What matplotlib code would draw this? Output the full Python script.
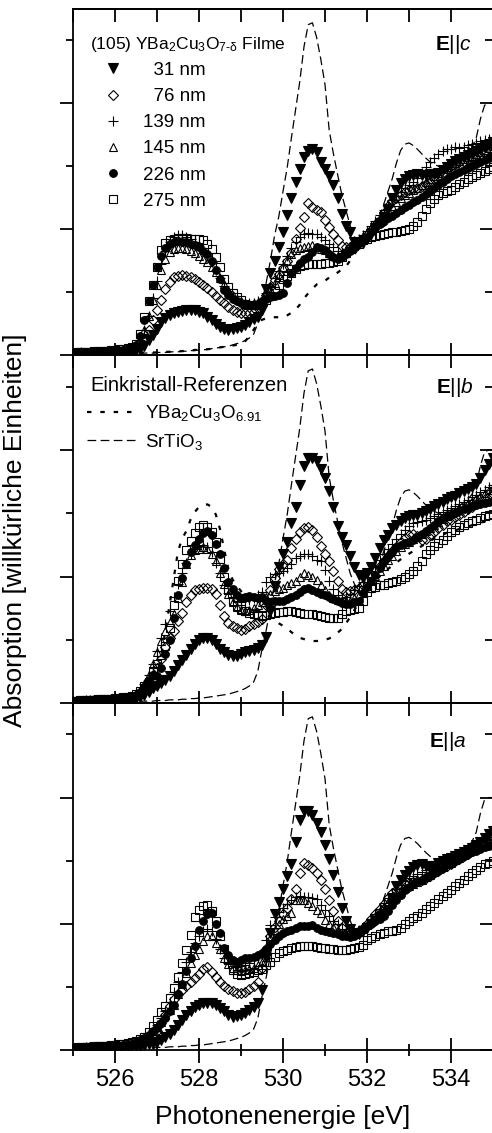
import numpy as np
import matplotlib.pyplot as plt
from matplotlib.lines import Line2D
from matplotlib.ticker import MultipleLocator

plt.rcParams['font.family'] = ['Liberation Sans', 'DejaVu Sans']
plt.rcParams['mathtext.fontset'] = 'custom'
plt.rcParams['mathtext.rm'] = 'Liberation Sans'
plt.rcParams['mathtext.it'] = 'Liberation Sans:italic'
plt.rcParams['mathtext.bf'] = 'Liberation Sans:bold'
plt.rcParams['mathtext.default'] = 'regular'

# Photonenenergie, 0.1 eV Schritte
E = np.linspace(525.0, 535.0, 101)

# ---------------- E || c ----------------
c31 = [0.02,0.02,0.03,0.02,0.03,0.03,0.02,0.03,0.04,0.03,
       0.04,0.04,0.05,0.05,0.06,0.08,0.10,0.15,0.23,0.32,
       0.41,0.52,0.58,0.63,0.66,0.69,0.70,0.71,0.71,0.71,
       0.69,0.66,0.61,0.55,0.49,0.44,0.41,0.40,0.41,0.43,
       0.45,0.48,0.52,0.57,0.61,0.72,1.05,1.30,1.50,1.72,
       1.95,2.22,2.50,2.75,2.96,3.14,3.25,3.28,3.22,3.06,
       2.95,2.84,2.70,2.50,2.24,2.05,1.95,1.80,1.76,1.78,
       1.85,1.93,2.02,2.10,2.20,2.32,2.50,2.63,2.74,2.80,
       2.84,2.86,2.87,2.86,2.86,2.87,2.88,2.90,2.94,2.99,
       3.04,3.08,3.12,3.15,3.18,3.21,3.24,3.27,3.31,3.34,
       3.38]
c76 = [0.02,0.03,0.02,0.03,0.03,0.04,0.03,0.04,0.04,0.05,
       0.05,0.06,0.06,0.07,0.08,0.11,0.16,0.26,0.40,0.56,
       0.72,0.87,1.05,1.16,1.24,1.26,1.27,1.26,1.24,1.20,
       1.16,1.11,1.06,1.00,0.94,0.88,0.82,0.76,0.72,0.69,
       0.67,0.66,0.67,0.69,0.74,0.80,0.95,1.08,1.19,1.28,
       1.38,1.50,1.62,1.85,2.02,2.20,2.41,2.35,2.31,2.28,
       2.14,2.04,1.93,1.83,1.74,1.71,1.72,1.74,1.78,1.84,
       1.90,1.98,2.06,2.15,2.26,2.36,2.44,2.50,2.55,2.59,
       2.62,2.64,2.66,2.68,2.71,2.75,2.79,2.84,2.90,2.95,
       3.00,3.03,3.06,3.09,3.12,3.15,3.18,3.22,3.25,3.28,
       3.32]
c139 = [0.03,0.03,0.04,0.03,0.04,0.04,0.05,0.04,0.05,0.06,
        0.06,0.07,0.08,0.09,0.11,0.15,0.24,0.40,0.62,0.90,
        1.18,1.45,1.66,1.80,1.87,1.90,1.90,1.88,1.84,1.80,
        1.74,1.67,1.58,1.47,1.35,1.22,1.10,0.99,0.92,0.87,
        0.84,0.82,0.82,0.83,0.85,0.88,0.98,1.10,1.22,1.34,
        1.45,1.58,1.70,1.80,1.88,1.93,1.94,1.93,1.92,1.87,
        1.83,1.77,1.72,1.66,1.62,1.66,1.72,1.78,1.84,1.90,
        1.97,2.05,2.13,2.22,2.30,2.38,2.46,2.53,2.59,2.65,
        2.70,2.75,2.82,2.90,2.98,3.06,3.13,3.19,3.24,3.27,
        3.28,3.30,3.29,3.31,3.33,3.35,3.37,3.40,3.42,3.44,
        3.47]
c145 = [0.02,0.03,0.03,0.03,0.04,0.04,0.04,0.05,0.05,0.05,
        0.06,0.07,0.07,0.09,0.11,0.15,0.24,0.40,0.62,0.88,
        1.12,1.35,1.52,1.63,1.68,1.70,1.70,1.68,1.65,1.62,
        1.58,1.53,1.47,1.40,1.32,1.23,1.13,1.03,0.95,0.89,
        0.85,0.82,0.81,0.82,0.84,0.88,0.96,1.05,1.15,1.27,
        1.40,1.50,1.60,1.67,1.70,1.72,1.74,1.75,1.72,1.69,
        1.67,1.62,1.58,1.57,1.60,1.65,1.71,1.77,1.83,1.89,
        1.95,2.02,2.09,2.16,2.23,2.30,2.37,2.43,2.49,2.54,
        2.58,2.62,2.66,2.70,2.75,2.80,2.85,2.90,2.95,2.99,
        3.02,3.05,3.08,3.11,3.14,3.17,3.20,3.23,3.26,3.29,
        3.32]
c226 = [0.03,0.03,0.03,0.04,0.04,0.04,0.05,0.05,0.05,0.06,
        0.06,0.07,0.08,0.09,0.11,0.16,0.30,0.56,0.85,1.12,
        1.40,1.58,1.70,1.77,1.80,1.81,1.80,1.79,1.77,1.75,
        1.71,1.66,1.61,1.50,1.35,1.20,1.03,0.95,0.89,0.85,
        0.82,0.79,0.79,0.79,0.81,0.85,0.89,0.92,0.93,0.96,
        0.98,1.14,1.30,1.38,1.46,1.52,1.56,1.64,1.72,1.70,
        1.67,1.61,1.56,1.53,1.56,1.61,1.66,1.72,1.78,1.84,
        1.88,1.95,2.02,2.08,2.13,2.17,2.21,2.25,2.30,2.35,
        2.39,2.43,2.46,2.51,2.56,2.61,2.66,2.70,2.75,2.80,
        2.84,2.88,2.91,2.94,2.97,3.00,3.04,3.07,3.10,3.13,
        3.16]
c275 = [0.03,0.04,0.04,0.05,0.05,0.06,0.06,0.07,0.07,0.08,
        0.08,0.09,0.10,0.11,0.13,0.18,0.34,0.60,0.85,1.12,
        1.40,1.67,1.78,1.83,1.85,1.86,1.86,1.86,1.85,1.85,
        1.85,1.82,1.77,1.68,1.55,1.40,1.20,1.08,0.98,0.92,
        0.87,0.81,0.80,0.79,0.80,0.82,0.88,0.93,1.02,1.12,
        1.20,1.26,1.31,1.36,1.41,1.43,1.44,1.45,1.45,1.45,
        1.46,1.46,1.47,1.50,1.56,1.62,1.68,1.73,1.77,1.82,
        1.85,1.87,1.89,1.91,1.93,1.94,1.95,1.96,1.97,1.98,
        2.00,2.05,2.12,2.21,2.32,2.42,2.48,2.54,2.58,2.61,
        2.63,2.67,2.71,2.75,2.79,2.83,2.86,2.89,2.92,2.95,
        2.98]
ybco_c = [0.02,0.02,0.02,0.02,0.02,0.02,0.02,0.02,0.02,0.02,
          0.02,0.02,0.03,0.03,0.03,0.03,0.03,0.04,0.04,0.04,
          0.04,0.05,0.05,0.05,0.06,0.06,0.06,0.07,0.07,0.08,
          0.08,0.09,0.09,0.10,0.11,0.12,0.13,0.14,0.15,0.16,
          0.17,0.22,0.30,0.40,0.50,0.56,0.58,0.59,0.60,0.60,
          0.60,0.63,0.67,0.72,0.80,0.90,0.98,1.05,1.12,1.15,
          1.18,1.23,1.27,1.31,1.36,1.41,1.50,1.60,1.70,1.78,
          1.85,1.90,1.95,2.00,2.05,2.10,2.15,2.20,2.25,2.30,
          2.35,2.40,2.45,2.50,2.55,2.60,2.64,2.68,2.72,2.76,
          2.80,2.84,2.88,2.92,2.96,3.00,3.04,3.08,3.12,3.16,
          3.20]

# ---------------- E || b ----------------
b31 = [0.02,0.02,0.03,0.02,0.03,0.03,0.03,0.04,0.03,0.04,
       0.04,0.05,0.05,0.06,0.07,0.08,0.10,0.13,0.17,0.23,
       0.27,0.32,0.37,0.43,0.50,0.60,0.68,0.76,0.86,0.93,
       1.00,1.02,1.03,1.00,0.93,0.86,0.81,0.76,0.74,0.75,
       0.77,0.80,0.82,0.84,0.87,0.92,1.05,1.45,1.85,2.15,
       2.35,2.55,2.85,3.10,3.45,3.75,3.87,3.88,3.82,3.70,
       3.55,3.35,3.10,2.80,2.62,2.50,2.32,2.15,2.03,1.98,
       2.05,2.15,2.30,2.45,2.57,2.66,2.77,2.82,2.88,2.92,
       2.96,2.98,2.98,3.01,3.04,3.07,3.11,3.14,3.18,3.22,
       3.25,3.28,3.32,3.35,3.38,3.41,3.46,3.55,3.68,3.78,
       3.88]
b76 = [0.02,0.03,0.02,0.03,0.03,0.04,0.04,0.04,0.05,0.05,
       0.05,0.06,0.07,0.08,0.09,0.11,0.16,0.24,0.34,0.44,
       0.55,0.70,0.88,1.02,1.14,1.30,1.43,1.60,1.70,1.78,
       1.81,1.82,1.82,1.80,1.72,1.55,1.37,1.27,1.21,1.18,
       1.16,1.17,1.21,1.25,1.28,1.33,1.55,1.78,1.98,2.12,
       2.20,2.26,2.45,2.60,2.70,2.77,2.78,2.74,2.62,2.48,
       2.36,2.24,2.08,1.93,1.80,1.76,1.77,1.79,1.82,1.87,
       1.93,2.00,2.08,2.16,2.24,2.32,2.40,2.46,2.54,2.61,
       2.65,2.67,2.64,2.58,2.60,2.65,2.70,2.76,2.82,2.87,
       2.90,2.94,2.98,3.02,3.06,3.10,3.14,3.18,3.22,3.26,
       3.30]
b139 = [0.02,0.03,0.03,0.04,0.04,0.04,0.05,0.05,0.05,0.06,
        0.06,0.07,0.08,0.09,0.10,0.13,0.19,0.30,0.45,0.62,
        0.82,1.02,1.25,1.45,1.68,1.88,2.05,2.22,2.35,2.44,
        2.48,2.50,2.46,2.38,2.22,2.05,1.87,1.74,1.66,1.62,
        1.60,1.61,1.63,1.66,1.70,1.76,1.92,2.00,2.04,2.06,
        2.08,2.14,2.19,2.30,2.33,2.35,2.36,2.33,2.26,2.24,
        2.11,1.93,1.80,1.71,1.66,1.68,1.72,1.78,1.85,1.92,
        2.00,2.08,2.17,2.26,2.35,2.44,2.52,2.60,2.67,2.74,
        2.80,2.84,2.86,2.88,2.90,2.93,2.96,2.99,3.02,3.05,
        3.08,3.11,3.14,3.17,3.21,3.25,3.29,3.33,3.37,3.41,
        3.45]
b145 = [0.02,0.02,0.03,0.03,0.03,0.04,0.04,0.05,0.05,0.05,
        0.06,0.06,0.07,0.08,0.10,0.13,0.19,0.30,0.45,0.62,
        0.80,0.98,1.14,1.28,1.40,1.66,1.92,2.20,2.34,2.42,
        2.44,2.46,2.43,2.36,2.24,2.05,1.88,1.72,1.60,1.52,
        1.47,1.45,1.47,1.50,1.55,1.60,1.68,1.72,1.77,1.80,
        1.82,1.86,1.90,1.93,1.99,2.06,2.03,2.00,1.94,1.87,
        1.78,1.71,1.66,1.63,1.62,1.61,1.62,1.66,1.71,1.77,
        1.85,1.93,2.01,2.09,2.17,2.26,2.33,2.40,2.46,2.51,
        2.55,2.59,2.63,2.67,2.72,2.77,2.82,2.86,2.91,2.96,
        3.00,3.04,3.08,3.12,3.16,3.20,3.24,3.28,3.32,3.36,
        3.40]
b226 = [0.02,0.03,0.03,0.03,0.04,0.04,0.04,0.05,0.05,0.06,
        0.06,0.07,0.08,0.09,0.10,0.13,0.18,0.26,0.36,0.45,
        0.42,0.55,0.78,1.00,1.35,1.70,1.98,2.20,2.38,2.50,
        2.60,2.69,2.72,2.66,2.52,2.36,2.14,1.92,1.80,1.70,
        1.66,1.68,1.69,1.67,1.66,1.68,1.61,1.60,1.61,1.61,
        1.61,1.65,1.68,1.71,1.76,1.80,1.82,1.79,1.76,1.73,
        1.71,1.67,1.64,1.61,1.58,1.56,1.57,1.59,1.61,1.74,
        1.83,1.93,2.03,2.13,2.24,2.32,2.39,2.46,2.50,2.53,
        2.55,2.57,2.62,2.67,2.72,2.77,2.82,2.88,2.92,2.95,
        2.98,3.01,3.04,3.07,3.09,3.11,3.13,3.14,3.16,3.18,
        3.20]
b275 = [0.03,0.03,0.04,0.04,0.05,0.05,0.06,0.06,0.07,0.07,
        0.08,0.08,0.09,0.10,0.11,0.14,0.19,0.27,0.34,0.50,
        0.62,0.76,0.90,1.18,1.55,1.93,2.20,2.42,2.56,2.69,
        2.79,2.81,2.78,2.70,2.55,2.27,2.00,1.79,1.62,1.53,
        1.49,1.45,1.42,1.40,1.39,1.37,1.39,1.41,1.42,1.44,
        1.44,1.45,1.45,1.44,1.42,1.41,1.40,1.40,1.39,1.37,
        1.36,1.35,1.34,1.35,1.40,1.45,1.47,1.48,1.50,1.62,
        1.75,1.82,1.84,1.86,1.87,1.89,1.91,1.93,1.96,2.00,
        2.04,2.08,2.16,2.25,2.35,2.42,2.48,2.53,2.58,2.64,
        2.70,2.74,2.78,2.81,2.84,2.87,2.90,2.93,2.95,2.97,
        2.99]
ybco_b = [0.02,0.02,0.02,0.02,0.02,0.02,0.02,0.02,0.02,0.02,
          0.02,0.03,0.03,0.03,0.04,0.05,0.07,0.10,0.16,0.28,
          0.45,0.75,1.15,1.55,1.98,2.40,2.60,2.72,2.90,3.02,
          3.10,3.13,3.14,3.10,2.98,2.75,2.42,2.12,1.95,1.85,
          1.77,1.68,1.60,1.53,1.48,1.44,1.40,1.36,1.31,1.26,
          1.22,1.18,1.12,1.07,1.03,1.01,0.99,0.98,0.98,0.99,
          1.00,1.02,1.06,1.11,1.17,1.26,1.36,1.47,1.58,1.68,
          1.78,1.86,1.93,2.00,2.06,2.12,2.17,2.22,2.27,2.32,
          2.36,2.40,2.44,2.48,2.52,2.56,2.60,2.63,2.66,2.69,
          2.71,2.73,2.75,2.77,2.79,2.81,2.83,2.85,2.87,2.89,
          2.91]

# ---------------- E || a ----------------
a31 = [0.02,0.02,0.02,0.03,0.03,0.03,0.03,0.04,0.04,0.04,
       0.04,0.05,0.05,0.05,0.06,0.06,0.07,0.08,0.09,0.10,
       0.12,0.16,0.21,0.26,0.32,0.39,0.47,0.55,0.62,0.68,
       0.72,0.74,0.75,0.74,0.71,0.67,0.61,0.56,0.53,0.54,
       0.56,0.59,0.63,0.68,0.75,0.95,1.45,1.85,2.15,2.35,
       2.55,2.75,2.95,3.30,3.65,3.78,3.79,3.73,3.60,3.45,
       3.25,3.02,2.78,2.50,2.25,2.05,1.92,1.85,1.84,1.88,
       1.93,1.99,2.05,2.10,2.16,2.22,2.40,2.60,2.70,2.78,
       2.84,2.90,2.93,2.94,2.92,2.88,2.92,2.97,3.00,3.03,
       3.05,3.08,3.11,3.14,3.17,3.20,3.25,3.30,3.36,3.42,
       3.47]
a76 = [0.02,0.03,0.03,0.03,0.04,0.04,0.04,0.05,0.05,0.05,
       0.06,0.06,0.07,0.08,0.09,0.10,0.12,0.15,0.20,0.25,
       0.30,0.42,0.55,0.69,0.80,0.88,0.95,1.02,1.08,1.14,
       1.20,1.28,1.32,1.24,1.16,1.08,1.02,0.97,0.93,0.90,
       0.90,0.92,0.96,1.02,1.08,1.30,1.60,1.80,1.95,2.05,
       2.15,2.25,2.40,2.55,2.80,2.96,2.93,2.88,2.80,2.70,
       2.55,2.38,2.20,2.05,1.93,1.85,1.83,1.85,1.89,1.94,
       2.00,2.07,2.15,2.23,2.32,2.41,2.48,2.54,2.59,2.63,
       2.65,2.66,2.67,2.69,2.72,2.76,2.80,2.84,2.88,2.92,
       2.95,2.99,3.03,3.07,3.11,3.15,3.19,3.23,3.27,3.30,
       3.33]
a139 = [0.02,0.03,0.03,0.04,0.04,0.04,0.05,0.05,0.06,0.06,
        0.07,0.07,0.08,0.09,0.10,0.12,0.15,0.19,0.25,0.32,
        0.40,0.50,0.62,0.76,0.92,1.08,1.24,1.40,1.56,1.70,
        1.80,1.88,1.92,1.88,1.76,1.60,1.46,1.38,1.33,1.32,
        1.33,1.35,1.38,1.42,1.47,1.52,1.75,1.98,2.10,2.18,
        2.25,2.32,2.38,2.43,2.44,2.43,2.42,2.41,2.40,2.30,
        2.22,2.12,2.05,2.00,1.92,1.88,1.86,1.87,1.90,1.95,
        2.01,2.08,2.16,2.24,2.33,2.41,2.48,2.55,2.62,2.68,
        2.72,2.76,2.79,2.82,2.85,2.88,2.91,2.94,2.97,3.00,
        3.03,3.07,3.11,3.15,3.19,3.23,3.26,3.29,3.32,3.35,
        3.38]
a145 = [0.02,0.03,0.03,0.03,0.04,0.04,0.05,0.05,0.05,0.06,
        0.06,0.07,0.08,0.09,0.10,0.12,0.15,0.19,0.24,0.30,
        0.37,0.45,0.55,0.64,0.72,0.88,1.05,1.22,1.38,1.50,
        1.60,1.72,1.80,1.80,1.70,1.60,1.45,1.36,1.30,1.26,
        1.25,1.26,1.28,1.30,1.34,1.40,1.62,1.78,1.90,2.00,
        2.08,2.12,2.17,2.38,2.38,2.38,2.33,2.28,2.22,2.17,
        2.06,2.00,1.95,1.90,1.86,1.83,1.82,1.84,1.87,1.92,
        1.98,2.05,2.12,2.20,2.28,2.35,2.42,2.48,2.53,2.57,
        2.60,2.63,2.66,2.70,2.74,2.78,2.82,2.86,2.90,2.94,
        2.97,3.01,3.05,3.09,3.13,3.17,3.21,3.24,3.27,3.30,
        3.33]
a226 = [0.03,0.03,0.03,0.04,0.04,0.05,0.05,0.05,0.06,0.06,
        0.07,0.07,0.08,0.09,0.10,0.12,0.15,0.19,0.24,0.30,
        0.35,0.42,0.50,0.62,0.72,0.88,1.05,1.25,1.45,1.65,
        1.90,2.04,2.15,2.17,2.00,1.85,1.62,1.50,1.42,1.40,
        1.42,1.45,1.46,1.48,1.50,1.53,1.60,1.68,1.75,1.80,
        1.85,1.88,1.90,1.93,1.96,1.96,1.97,1.98,1.93,1.90,
        1.88,1.87,1.85,1.83,1.81,1.80,1.79,1.80,1.85,1.91,
        1.96,2.00,2.04,2.08,2.12,2.20,2.30,2.38,2.45,2.53,
        2.59,2.63,2.66,2.70,2.74,2.77,2.80,2.84,2.89,2.94,
        2.97,3.00,3.03,3.07,3.10,3.13,3.16,3.18,3.21,3.23,
        3.25]
a275 = [0.03,0.04,0.04,0.05,0.05,0.06,0.06,0.07,0.07,0.08,
        0.08,0.09,0.10,0.11,0.12,0.14,0.17,0.21,0.28,0.38,
        0.48,0.60,0.70,0.83,0.98,1.16,1.38,1.58,1.82,2.10,
        2.22,2.28,2.30,2.20,2.04,1.80,1.60,1.43,1.26,1.20,
        1.19,1.20,1.22,1.24,1.26,1.28,1.34,1.40,1.48,1.54,
        1.57,1.59,1.61,1.63,1.64,1.64,1.64,1.64,1.63,1.62,
        1.61,1.60,1.60,1.59,1.59,1.59,1.60,1.61,1.63,1.67,
        1.75,1.78,1.81,1.84,1.86,1.88,1.89,1.90,1.94,2.00,
        2.04,2.09,2.13,2.17,2.23,2.28,2.33,2.39,2.44,2.49,
        2.54,2.60,2.65,2.70,2.75,2.80,2.85,2.90,2.94,2.97,
        3.00]

# SrTiO3-Einkristall (isotrop, in allen Panels gleich)
srtio3 = [0.02,0.02,0.02,0.02,0.02,0.02,0.02,0.02,0.02,0.02,
          0.02,0.02,0.02,0.02,0.02,0.03,0.03,0.03,0.03,0.03,
          0.04,0.04,0.04,0.05,0.05,0.05,0.06,0.06,0.07,0.07,
          0.08,0.08,0.09,0.10,0.11,0.12,0.13,0.14,0.16,0.18,
          0.20,0.23,0.27,0.33,0.50,0.85,1.15,1.50,1.90,2.20,
          2.60,2.98,3.45,3.90,4.35,4.90,5.25,5.28,5.05,4.70,
          4.30,3.57,3.20,2.87,2.55,2.30,2.05,1.88,1.80,1.82,
          1.88,1.95,2.05,2.20,2.40,2.60,2.80,3.05,3.25,3.35,
          3.37,3.33,3.27,3.20,3.13,3.07,3.03,3.00,3.00,3.02,
          3.05,3.08,3.12,3.17,3.22,3.30,3.45,3.75,3.97,4.00,
          4.00]

thickness = ['  31 nm', '  76 nm', '139 nm', '145 nm', '226 nm', '275 nm']
markers = [dict(marker='v', ms=6.5, mfc='k'),
           dict(marker='D', ms=4.6, mfc='none'),
           dict(marker='+', ms=6.5, mfc='none'),
           dict(marker='^', ms=6.0, mfc='none'),
           dict(marker='o', ms=5.5, mfc='k'),
           dict(marker='s', ms=5.3, mfc='none')]

panels = [
    ([c31, c76, c139, c145, c226, c275], ybco_c, r'$\mathbf{E}$||$\mathit{c}$'),
    ([b31, b76, b139, b145, b226, b275], ybco_b, r'$\mathbf{E}$||$\mathit{b}$'),
    ([a31, a76, a139, a145, a226, a275], None, r'$\mathbf{E}$||$\mathit{a}$'),
]
bottoms = [0.6867, 0.3795, 0.0733]
heights = [0.3054, 0.3071, 0.3063]
label_pos = [(0.95, 0.896), (0.955, 0.908), (0.938, 0.888)]

ybco_ls = (0, (2, 4))
sto_ls = (0, (7, 3.5))

fig = plt.figure(figsize=(4.92, 11.33), dpi=100)
axes = []
for k, (series, ybco, elabel) in enumerate(panels):
    ax = fig.add_axes([73/492, bottoms[k], 420/492, heights[k]])
    axes.append(ax)
    lines = []
    for y, lab, m in zip(series, thickness, markers):
        l, = ax.plot(E, y, ls='none', color='k', mec='k', mew=0.8, label=lab, **m)
        lines.append(l)
    ax.plot(E, srtio3, color='k', lw=0.9, ls=sto_ls)
    if ybco is not None:
        ax.plot(E, ybco, color='k', lw=1.6, ls=ybco_ls)

    ax.set_xlim(525, 535)
    ax.set_ylim(0, 5.5)
    ax.xaxis.set_major_locator(MultipleLocator(2))
    ax.xaxis.set_minor_locator(MultipleLocator(1))
    ax.yaxis.set_major_locator(MultipleLocator(2))
    ax.yaxis.set_minor_locator(MultipleLocator(1))
    ax.tick_params(axis='x', which='major', direction='inout', length=18, width=1.3,
                   labelsize=17, pad=5, labelbottom=(k == 2))
    ax.tick_params(axis='x', which='minor', direction='inout', length=8.6, width=1.3)
    ax.tick_params(axis='y', which='major', direction='out', length=9.4, width=1.3, labelleft=False)
    ax.tick_params(axis='y', which='minor', direction='out', length=5, width=1.3)
    for s in ax.spines.values():
        s.set_linewidth(1.3)

    top = ax.secondary_xaxis('top')
    top.xaxis.set_major_locator(MultipleLocator(1))
    top.tick_params(direction='in', length=9.4, width=1.3, labeltop=False)
    top.spines['top'].set_linewidth(1.3)
    right = ax.secondary_yaxis('right')
    right.yaxis.set_major_locator(MultipleLocator(2))
    right.yaxis.set_minor_locator(MultipleLocator(1))
    right.tick_params(which='major', direction='in', length=9.4, width=1.3, labelright=False)
    right.tick_params(which='minor', direction='in', length=6, width=1.3)
    right.spines['right'].set_linewidth(1.3)

    ax.text(label_pos[k][0], label_pos[k][1], elabel, transform=ax.transAxes,
            ha='right', va='center', fontsize=15)

    if k == 0:
        ax.text(0.0405, 0.896, r'(105) YBa$_2$Cu$_3$O$_{7\text{-}δ}$ Filme',
                transform=ax.transAxes, ha='left', va='center', fontsize=12.5)
        ax.legend(handles=lines, loc='upper left', bbox_to_anchor=(0.073, 0.847),
                  frameon=False, borderpad=0, borderaxespad=0, handlelength=1.0,
                  handletextpad=1.1, labelspacing=0.48, fontsize=13.5)
    if k == 1:
        ax.text(0.0405, 0.912, 'Einkristall-Referenzen', transform=ax.transAxes,
                ha='left', va='center', fontsize=14.5)
        h = [Line2D([], [], color='k', lw=1.6, ls=ybco_ls),
             Line2D([], [], color='k', lw=0.9, ls=sto_ls)]
        ax.legend(h, [r'YBa$_2$Cu$_3$O$_{6.91}$', r'SrTiO$_3$'], loc='upper left',
                  bbox_to_anchor=(0.0333, 0.862), frameon=False, borderpad=0,
                  borderaxespad=0, handlelength=2.56, handletextpad=0.53,
                  labelspacing=0.45, fontsize=13.5)

axes[2].set_xlabel('Photonenenergie [eV]', fontsize=19, labelpad=10)
fig.text(0.03, 0.532, 'Absorption [willkürliche Einheiten]', rotation=90,
         ha='center', va='center', fontsize=19)

fig.savefig('out.png', dpi=100)
